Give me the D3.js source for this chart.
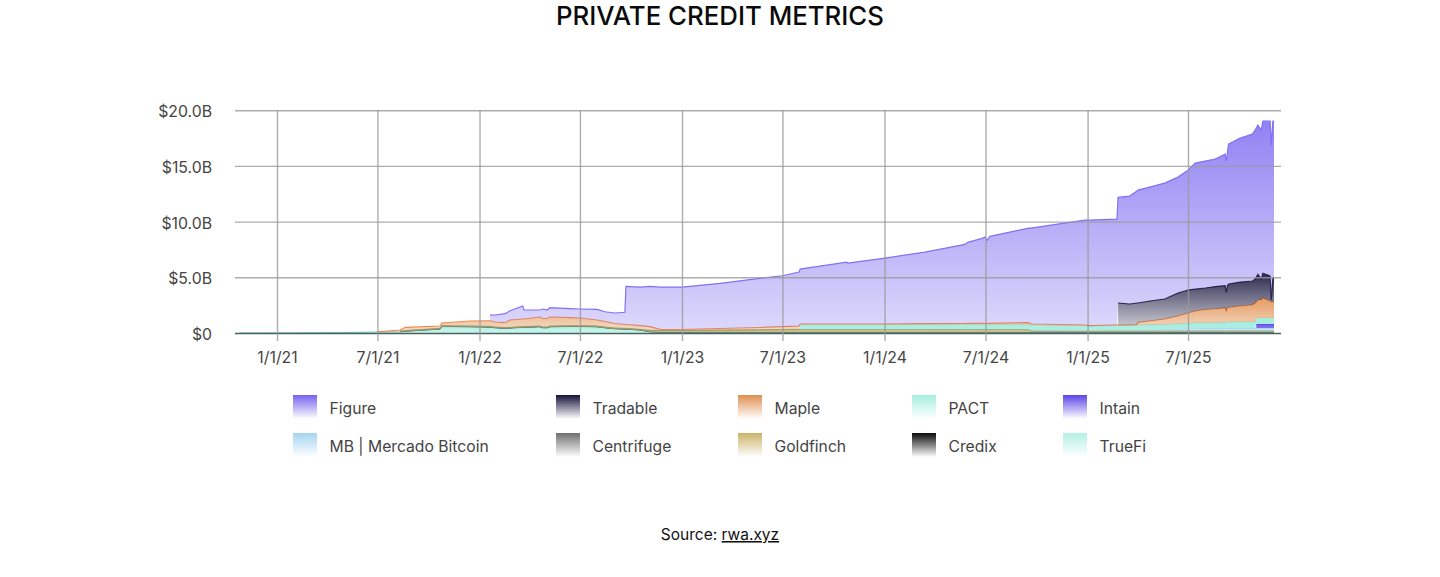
<!DOCTYPE html>
<html>
<head>
<meta charset="utf-8">
<script src="https://cdn.jsdelivr.net/npm/d3@7"></script>
<style>
	html, body { margin: 0; padding: 0; background: #fff; overflow: hidden; }
	text { font-family: Inter, "Noto Sans", sans-serif; }
</style>
</head>
<body>
<div id="main-chart"></div>
<script>
// DATA (all series in $B, stacked)
var dates = ["2020-10-26","2021-01-01","2021-04-24","2021-07-01","2021-08-11","2021-08-20","2021-10-22","2021-10-25","2021-12-15","2022-01-18",
	"2022-01-20","2022-01-29","2022-02-16","2022-02-25","2022-03-20","2022-03-22","2022-04-20","2022-04-25","2022-05-03","2022-05-08",
	"2022-06-13","2022-07-01","2022-08-01","2022-08-15","2022-09-02","2022-09-20","2022-09-22","2022-10-17","2022-11-04","2022-11-22",
	"2023-01-01","2023-03-11","2023-05-21","2023-07-01","2023-07-31","2023-08-02","2023-10-25","2023-10-27","2024-01-02","2024-03-14",
	"2024-05-25","2024-05-30","2024-06-25","2024-06-30","2024-07-04","2024-07-09","2024-09-17","2024-09-21","2024-12-27","2025-01-05",
	"2025-02-23","2025-02-25","2025-03-18","2025-03-31","2025-04-02","2025-04-23","2025-05-20","2025-06-13","2025-07-01","2025-07-14",
	"2025-08-01","2025-08-19","2025-09-06","2025-09-08","2025-09-10","2025-09-12","2025-10-03","2025-10-25","2025-10-30","2025-11-01",
	"2025-11-04","2025-11-10","2025-11-13","2025-11-22","2025-11-26","2025-11-28","2025-12-01","2025-12-03"];

var trueFi = [.002,.01,.036,.09,.10,.144,.34,.575,.548,.52,
	.52,.458,.413,.431,.503,.503,.548,.458,.458,.548,
	.575,.575,.548,.458,.369,.342,.342,.252,.10,.04,
	.04,.04,.04,.04,.04,.04,.04,.04,.04,.04,
	.04,.04,.04,.04,.04,.04,.04,.03,.03,.03,
	.03,.03,.03,.03,.03,.03,.03,.03,.03,.03,
	.03,.03,.03,.03,.03,.03,.03,.03,.03,.03,
	.03,.03,.03,.03,.03,.03,.03,.03];
var credix = [null,null,null,null,.02,.02,.02,.02,.02,.02,
	.02,.02,.02,.02,.02,.02,.02,.02,.02,.02,
	.02,.02,.02,.02,.02,.02,.02,.02,.02,.03,
	.03,.03,.03,.03,.03,.03,.03,.03,.03,.03,
	.03,.03,.03,.03,.03,.03,.03,.03,.03,.03,
	.03,.03,.03,.03,.03,.03,.03,.03,.03,.03,
	.03,.03,.03,.03,.03,.03,.03,.03,.03,.03,
	.03,.03,.03,.03,.03,.03,.03,.03];
var goldfinch = [null,null,null,null,.04,.04,.04,.04,.04,.04,
	.04,.04,.04,.04,.04,.04,.04,.04,.04,.04,
	.04,.04,.04,.04,.04,.04,.04,.04,.08,.124,
	.142,.169,.196,.214,.232,.232,.232,.232,.232,.232,
	.232,.232,.232,.232,.232,.232,.232,.12,.12,.12,
	.12,.12,.12,.12,.12,.12,.12,.12,.12,.12,
	.12,.12,.12,.12,.12,.12,.12,.12,.12,.12,
	.12,.12,.12,.12,.12,.12,.12,.12];
var centrifuge = [null,null,null,null,.02,.02,.02,.02,.02,.02,
	.02,.02,.02,.02,.02,.02,.02,.02,.02,.02,
	.02,.02,.02,.02,.02,.02,.02,.02,.05,.03,
	.03,.03,.03,.03,.03,.03,.03,.03,.03,.03,
	.03,.03,.03,.03,.03,.03,.03,.01,.01,.01,
	.01,.01,.01,.01,.01,.01,.01,.01,.01,.01,
	.01,.01,.01,.01,.01,.01,.01,.01,.01,.01,
	.01,.01,.01,.01,.01,.01,.01,.01];
var mercado = [null,null,null,null,null,null,null,null,null,null,
	null,null,null,null,null,null,null,null,null,null,
	null,null,null,null,null,null,null,null,null,null,
	null,null,null,null,null,null,null,null,null,null,
	null,null,null,null,null,null,null,.079,.061,.061,
	.079,.079,.079,.079,.079,.097,.124,.169,.214,.214,
	.232,.232,.259,.259,.259,.259,.259,.259,.259,.259,
	.259,.259,.259,.259,.259,.259,.259,.259];
var intain = [null,null,null,null,null,null,null,null,null,null,
	null,null,null,null,null,null,null,null,null,null,
	null,null,null,null,null,null,null,null,null,null,
	null,null,null,null,null,null,null,null,null,null,
	null,null,null,null,null,null,null,null,null,null,
	null,null,null,null,null,null,null,null,null,null,
	null,null,null,null,null,null,null,null,null,.359,
	.359,.359,.359,.359,.359,.359,.359,.359];
var pact = [null,null,null,null,null,null,null,null,null,null,
	null,null,null,null,null,null,null,null,null,null,
	null,null,null,null,null,null,null,null,null,null,
	null,null,null,null,null,.404,.404,.404,.404,.404,
	.404,.404,.404,.404,.404,.404,.404,.449,.377,.359,
	.404,.404,.404,.404,.449,.431,.449,.449,.466,.493,
	.475,.475,.493,.493,.493,.538,.538,.538,.538,.538,
	.538,.538,.538,.538,.538,.538,.538,.538];
var maple = [null,null,null,.01,.09,.287,.206,.242,.448,.50,
	.50,.449,.431,.655,.673,.673,.807,.762,.762,.807,
	.718,.691,.538,.493,.404,.341,.341,.323,.314,.108,
	.072,.135,.197,.251,.278,.072,.072,.072,.072,.099,
	.117,.126,.135,.135,.135,.135,.189,.09,.09,.045,
	.045,.045,.045,.09,.242,.359,.493,.718,.924,1.076,
	1.211,1.256,1.301,1.032,1.301,1.301,1.435,1.525,1.704,1.435,
	1.615,1.615,1.794,1.615,1.525,1.435,1.435,1.435];
var tradable = [null,null,null,null,null,null,null,null,null,null,
	null,null,null,null,null,null,null,null,null,null,
	null,null,null,null,null,null,null,null,null,null,
	null,null,null,null,null,null,null,null,null,null,
	null,null,null,null,null,null,null,null,null,null,
	null,1.973,1.884,1.929,1.731,1.794,1.794,2.063,2.063,1.973,
	1.929,2.018,2.018,1.659,2.018,2.108,2.153,2.153,2.153,2.243,
	2.305,1.884,2.216,2.243,2.243,.179,2.153,2.153];
var figure = [null,null,null,null,null,null,null,null,null,null,
	.51,.628,.807,.834,1.166,.807,.628,.852,.762,.834,
	.807,.807,.96,.879,.942,1.094,3.427,3.471,3.624,3.794,
	3.812,4.054,4.413,4.575,4.862,4.934,5.561,5.472,5.92,6.431,
	7.104,7.275,7.625,7.741,7.445,7.804,8.495,8.611,9.419,9.481,
	9.508,9.481,9.688,10.046,10.136,10.226,10.405,10.405,10.764,11.302,
	11.392,11.437,11.796,11.796,11.885,12.558,12.917,13.186,13.365,13.365,
	13.392,13.365,13.661,13.814,13.904,13.904,14.083,14.083];

var yTicks = [0, 5, 10, 15, 20];
var yTickLabels = ["$0", "$5.0B", "$10.0B", "$15.0B", "$20.0B"];
var xTicks = ["2021-01-01","2021-07-01","2022-01-01","2022-07-01","2023-01-01","2023-07-01","2024-01-01","2024-07-01","2025-01-01","2025-07-01"];
var xTickLabels = ["1/1/21","7/1/21","1/1/22","7/1/22","1/1/23","7/1/23","1/1/24","7/1/24","1/1/25","7/1/25"];

// stack goes bottom to top, legend reads top to bottom
var seriesNames = ["TrueFi","Credix","Goldfinch","Centrifuge","MB | Mercado Bitcoin","Intain","PACT","Maple","Tradable","Figure"];
var seriesValues = [trueFi, credix, goldfinch, centrifuge, mercado, intain, pact, maple, tradable, figure];
var seriesColors = ["#b4f0e4","#0a0a0a","#c9b36a","#707070","#a5d5f0","#5b45e8","#a6eee0","#e0904f","#14123a","#7563f0"];
var seriesStrokes = ["#6cc8b8","#4f6f68","#a8a060","#8a9a78","#a5d5f0","#5b45e8","#a0e8dc","#f08a50","#1c1a30","#7f72f5"];
var seriesStrokeWidths = [1, 1, 0.8, 0.8, 0.8, 0.8, 1, 1.2, 1.2, 1.2];
var seriesTopOpacity = [1, 0.9, 1, 0.9, 0.9, 0.95, 1, 0.9, 0.9, 0.8];
var seriesBottomOpacity = [0.7, 0.25, 0.7, 0.25, 0.5, 0.7, 0.95, 0.3, 0.25, 0.25];

// legend order, first row then second
var legendNames = ["Figure","Tradable","Maple","PACT","Intain","MB | Mercado Bitcoin","Centrifuge","Goldfinch","Credix","TrueFi"];
var legendX = [293, 556, 738, 912, 1063];
var legendY = [395, 433];

var width = 1440, height = 577;

var svg = d3.select("#main-chart").append("svg")
	.attr("width", width)
	.attr("height", height);

var parseDate = d3.utcParse("%Y-%m-%d");

var xScale = d3.scaleUtc()
	.domain([parseDate("2021-01-01"), parseDate("2025-07-01")])
	.range([277, 1188]);
var yScale = d3.scaleLinear().domain([0, 20]).range([333, 110.2]);

var rows = dates.map(function(d, i){
	var row = {date: parseDate(d)};
	seriesNames.forEach(function(name, j){ row[name] = seriesValues[j][i]; });
	return row;
});

var stacked = d3.stack()
	.keys(seriesNames)
	.value(function(d, key){ return d[key] || 0; })(rows);

// gradients
var defs = svg.append("defs");

function addGradient(id, color, topOpacity, bottomOpacity){
	var grad = defs.append("linearGradient")
		.attr("id", id)
		.attr("x1", 0).attr("y1", 0).attr("x2", 0).attr("y2", 1);
	grad.append("stop").attr("offset", "0%").attr("stop-color", color).attr("stop-opacity", topOpacity);
	grad.append("stop").attr("offset", "100%").attr("stop-color", color).attr("stop-opacity", bottomOpacity);
}

seriesNames.forEach(function(name, i){
	addGradient("fill" + i, seriesColors[i], seriesTopOpacity[i], seriesBottomOpacity[i]);
	addGradient("swatch" + i, seriesColors[i], 1, 0);
});

// areas
var area = d3.area()
	.defined(function(d){ return d.data[d.key] != null; })
	.x(function(d){ return xScale(d.data.date); })
	.y0(function(d){ return yScale(d[0]); })
	.y1(function(d){ return yScale(d[1]); });

var topLine = d3.line()
	.defined(function(d){ return d.data[d.key] != null; })
	.x(function(d){ return xScale(d.data.date); })
	.y(function(d){ return yScale(d[1]); });

stacked.forEach(function(layer){
	layer.forEach(function(d){ d.key = layer.key; });
});

var layers = svg.append("g").selectAll("g")
	.data(stacked)
	.enter().append("g");

layers.append("path")
	.attr("d", area)
	.attr("fill", function(d, i){ return "url(#fill" + i + ")"; });

layers.append("path")
	.attr("d", topLine)
	.attr("fill", "none")
	.attr("stroke", function(d, i){ return seriesStrokes[i]; })
	.attr("stroke-width", function(d, i){ return seriesStrokeWidths[i]; });

// grid + axes sit on top of the areas
var yAxis = d3.axisLeft(yScale)
	.tickValues(yTicks)
	.tickFormat(function(d, i){ return yTickLabels[i]; })
	.tickSize(1281 - 235)
	.tickPadding(23);

var yGroup = svg.append("g")
	.attr("transform", "translate(1281,0)")
	.call(yAxis);

var xAxis = d3.axisBottom(xScale)
	.tickValues(xTicks.map(parseDate))
	.tickFormat(function(d, i){ return xTickLabels[i]; })
	.tickSize(341 - 110)
	.tickPadding(11);

var xGroup = svg.append("g")
	.attr("transform", "translate(0,110)")
	.call(xAxis);

[yGroup, xGroup].forEach(function(g){
	g.select(".domain").remove();
	g.selectAll("line").attr("stroke", "#999").attr("stroke-opacity", 0.8).attr("stroke-width", 1.4);
	g.selectAll("text")
		.attr("fill", "#444")
		.style("font-size", "15.8px");
});
yGroup.selectAll("text").attr("dy", "0.42em");

yGroup.selectAll(".tick").filter(function(d){ return d == 0; }).select("line")
	.attr("stroke", "#4a6260").attr("stroke-opacity", 1).attr("stroke-width", 1.5);

// title
svg.append("text")
	.attr("x", 720)
	.attr("y", 25)
	.attr("text-anchor", "middle")
	.attr("fill", "#0b0b0b")
	.style("font-size", "25.8px")
	.style("font-weight", 500)
	.text("PRIVATE CREDIT METRICS");

// legend
legendNames.forEach(function(name, i){
	var col = i % 5, row = Math.floor(i / 5);
	var idx = seriesNames.indexOf(name);
	svg.append("rect")
		.attr("x", legendX[col])
		.attr("y", legendY[row])
		.attr("width", 24)
		.attr("height", 24)
		.attr("fill", "url(#swatch" + idx + ")");
	svg.append("text")
		.attr("x", legendX[col] + 36.5)
		.attr("y", legendY[row] + 19)
		.attr("fill", "#444")
		.style("font-size", "15.7px")
		.text(name);
});

// source
var source = svg.append("text")
	.attr("x", 720)
	.attr("y", 540)
	.attr("text-anchor", "middle")
	.attr("fill", "#111")
	.style("font-size", "15.5px");
source.append("tspan").text("Source: ");
source.append("tspan").style("text-decoration", "underline").text("rwa.xyz");
</script>
</body>
</html>
